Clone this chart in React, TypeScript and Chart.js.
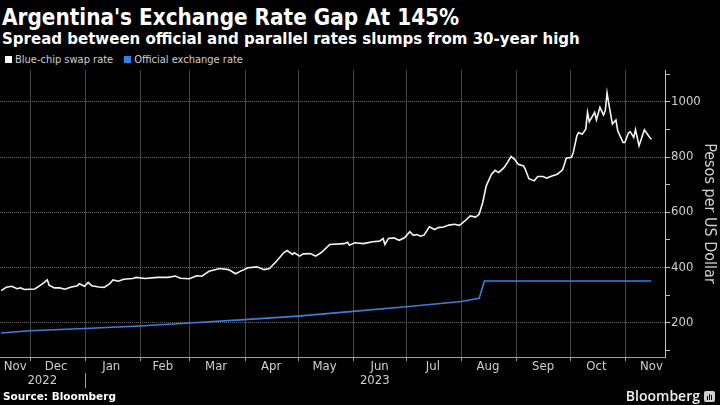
import React, { useEffect, useRef } from 'react';
import { Chart, registerables } from 'chart.js';

Chart.register(...registerables);

// ---------- data ----------
const SWAP_DATES = [
  '2022-11-15','2022-11-18','2022-11-21','2022-11-24','2022-11-26','2022-11-28','2022-12-04','2022-12-07','2022-12-09','2022-12-11',
  '2022-12-12','2022-12-15','2022-12-18','2022-12-21','2022-12-24','2022-12-28','2022-12-29','2023-01-01','2023-01-03','2023-01-05',
  '2023-01-09','2023-01-12','2023-01-15','2023-01-17','2023-01-20','2023-01-23','2023-01-28','2023-01-30','2023-02-04','2023-02-11',
  '2023-02-17','2023-02-21','2023-02-24','2023-03-01','2023-03-05','2023-03-08','2023-03-12','2023-03-18','2023-03-23','2023-03-27',
  '2023-03-29','2023-04-03','2023-04-08','2023-04-12','2023-04-15','2023-04-19','2023-04-23','2023-04-25','2023-04-28','2023-04-29',
  '2023-05-02','2023-05-04','2023-05-08','2023-05-11','2023-05-14','2023-05-19','2023-05-27','2023-05-29','2023-05-30','2023-06-02',
  '2023-06-07','2023-06-12','2023-06-16','2023-06-18','2023-06-19','2023-06-21','2023-06-24','2023-06-27','2023-06-30','2023-07-03',
  '2023-07-05','2023-07-07','2023-07-09','2023-07-11','2023-07-14','2023-07-17','2023-07-19','2023-07-22','2023-07-25','2023-07-28',
  '2023-07-31','2023-08-03','2023-08-06','2023-08-09','2023-08-11','2023-08-13','2023-08-15','2023-08-18','2023-08-20','2023-08-22',
  '2023-08-25','2023-08-27','2023-08-29','2023-08-31','2023-09-02','2023-09-05','2023-09-06','2023-09-08','2023-09-11','2023-09-13',
  '2023-09-16','2023-09-18','2023-09-21','2023-09-24','2023-09-27','2023-09-28','2023-09-29','2023-10-02','2023-10-03','2023-10-05',
  '2023-10-06','2023-10-08','2023-10-10','2023-10-11','2023-10-12','2023-10-15','2023-10-16','2023-10-18','2023-10-20','2023-10-21',
  '2023-10-22','2023-10-23','2023-10-25','2023-10-27','2023-10-28','2023-10-31','2023-11-01','2023-11-03','2023-11-04','2023-11-06',
  '2023-11-07','2023-11-09','2023-11-12','2023-11-15','2023-11-16',
];
const SWAP_VALUES = [
  315, 327, 331, 322, 325, 319, 321, 334, 343, 354,
  335, 325, 325, 320, 327, 333, 340, 331, 345, 333,
  328, 327, 339, 354, 349, 356, 359, 363, 359, 363,
  363, 368, 360, 358, 369, 367, 385, 395, 391, 376,
  383, 398, 401, 391, 395, 421, 452, 460, 446, 452,
  440, 448, 449, 440, 452, 482, 485, 490, 479, 488,
  485, 492, 494, 503, 482, 504, 506, 497, 506, 528,
  515, 518, 512, 516, 546, 536, 543, 545, 552, 555,
  551, 567, 585, 581, 591, 633, 694, 736, 750, 742,
  760, 779, 800, 790, 772, 766, 754, 720, 712, 728,
  728, 722, 730, 736, 752, 772, 794, 797, 815, 875,
  887, 881, 899, 960, 926, 960, 933, 978, 950, 966,
  1030, 990, 918, 932, 893, 851, 851, 885, 890, 869,
  897, 839, 897, 869, 863,
];

const OFFICIAL_DATES = [
  '2022-11-15','2022-12-01','2023-01-01','2023-02-01','2023-03-01','2023-04-01','2023-05-01',
  '2023-06-01','2023-07-01','2023-08-01','2023-08-11','2023-08-14','2023-11-16',
];
const OFFICIAL_VALUES = [162, 170, 178, 187, 198, 210, 223, 240, 257, 276, 287, 350, 350];

const MONTH_STARTS = [
  '2022-12-01','2023-01-01','2023-02-01','2023-03-01','2023-04-01','2023-05-01',
  '2023-06-01','2023-07-01','2023-08-01','2023-09-01','2023-10-01','2023-11-01',
];
const MONTH_LABELS = ['Nov','Dec','Jan','Feb','Mar','Apr','May','Jun','Jul','Aug','Sep','Oct','Nov'];
const MONTH_LABEL_DATES = [
  '2022-11-23','2022-12-16','2023-01-16','2023-02-14','2023-03-16','2023-04-16','2023-05-16',
  '2023-06-16','2023-07-16','2023-08-16','2023-09-16','2023-10-16','2023-11-16',
];
const YEAR_LABELS = ['2022', '2023'];
const YEAR_STARTS = ['2022-01-01', '2023-01-01'];

const Y_TICKS = [100, 200, 300, 400, 500, 600, 700, 800, 900, 1000, 1100];
const Y_LABELLED = [200, 400, 600, 800, 1000];
const Y_MIN = 75;
const Y_MAX = 1113;
const X_FIRST = '2022-11-15';
const X_LAST = '2023-11-24';

// ---------- helpers ----------
const BASE = Date.UTC(2022, 10, 1);
const dayOf = (s: string) => {
  const [y, m, d] = s.split('-').map(Number);
  return (Date.UTC(y, m - 1, d) - BASE) / 86400000;
};

const FONT = '"DejaVu Sans Condensed", "DejaVu Sans", sans-serif';
const GRID = '#6a6a6a';
const VGRID = '#444444';
const AXIS = '#a0a0a0';
const LABEL = '#cfcfcf';
const WHITE = '#f4f4f4';
const BLUE = '#3b7fd9';

const labelMap = new Map<number, string>();
MONTH_LABEL_DATES.forEach((d, i) => labelMap.set(dayOf(d), MONTH_LABELS[i]));
const allXTicks = [...MONTH_STARTS, ...MONTH_LABEL_DATES].map(dayOf).sort((a, b) => a - b);

// draws grid, tick marks, axis lines, the year row and its separator
const framePlugin = {
  id: 'frame',
  beforeDatasetsDraw(chart: any) {
    const sx = chart.scales.x;
    const sy = chart.scales.y;
    const area = chart.chartArea;
    const ctx = chart.ctx;
    ctx.save();
    ctx.fillStyle = VGRID;
    MONTH_STARTS.forEach((ms) => {
      const x = Math.round(sx.getPixelForValue(dayOf(ms)));
      ctx.fillRect(x, Math.round(area.top), 1, Math.round(area.bottom - area.top));
    });
    ctx.fillStyle = GRID;
    Y_LABELLED.forEach((v) => {
      const y = Math.round(sy.getPixelForValue(v));
      for (let x = Math.ceil(area.left); x < area.right; x += 2) ctx.fillRect(x, y, 1, 1);
    });
    ctx.restore();
  },
  afterDraw(chart: any) {
    const sx = chart.scales.x;
    const sy = chart.scales.y;
    const area = chart.chartArea;
    const ctx = chart.ctx;
    const b = Math.round(area.bottom);
    const r = Math.round(area.right);
    const l = Math.round(area.left);
    const t = Math.round(area.top);
    ctx.save();
    ctx.fillStyle = AXIS;
    ctx.fillRect(l, b, r - l, 1);
    MONTH_STARTS.forEach((ms) => {
      const x = Math.round(sx.getPixelForValue(dayOf(ms)));
      ctx.fillRect(x, b, 1, 4);
    });
    ctx.fillStyle = '#c0c0c0';
    ctx.fillRect(r, t, 1, b - t + 1);
    Y_TICKS.forEach((v) => {
      const y = Math.round(sy.getPixelForValue(v));
      ctx.fillRect(r, y, 5, 1);
    });
    ctx.font = `13px ${FONT}`;
    ctx.fillStyle = LABEL;
    ctx.textAlign = 'center';
    ctx.textBaseline = 'middle';
    const yText = sx.top + 24;
    YEAR_STARTS.forEach((ys, i) => {
      const a = Math.max(sx.min, dayOf(ys));
      const e = i + 1 < YEAR_STARTS.length ? Math.min(sx.max, dayOf(YEAR_STARTS[i + 1])) : sx.max;
      if (e <= a) return;
      ctx.fillText(YEAR_LABELS[i], sx.getPixelForValue((a + e) / 2), yText);
    });
    ctx.fillStyle = AXIS;
    YEAR_STARTS.forEach((ys) => {
      const d = dayOf(ys);
      if (d <= sx.min || d >= sx.max) return;
      const x = Math.round(sx.getPixelForValue(d));
      ctx.fillRect(x, sx.top + 16, 1, 15);
    });
    ctx.restore();
  },
};

function ExchangeChart() {
  const ref = useRef<HTMLCanvasElement | null>(null);
  useEffect(() => {
    if (!ref.current) return;
    const chart = new Chart(ref.current, {
      type: 'line',
      data: {
        datasets: [
          {
            label: 'Blue-chip swap rate',
            data: SWAP_DATES.map((d, i) => ({ x: dayOf(d), y: SWAP_VALUES[i] })),
            borderColor: WHITE,
            borderWidth: 1.6,
            pointRadius: 0,
            tension: 0,
          },
          {
            label: 'Official exchange rate',
            data: OFFICIAL_DATES.map((d, i) => ({ x: dayOf(d), y: OFFICIAL_VALUES[i] })),
            borderColor: BLUE,
            borderWidth: 1.6,
            pointRadius: 0,
            tension: 0,
          },
        ],
      },
      options: {
        animation: false,
        responsive: false,
        maintainAspectRatio: false,
        layout: { padding: 0 },
        plugins: { legend: { display: false }, tooltip: { enabled: false }, title: { display: false } },
        scales: {
          x: {
            type: 'linear',
            position: 'bottom',
            min: dayOf(X_FIRST) - 0.6,
            max: dayOf(X_LAST) - 0.4,
            afterBuildTicks: (s: any) => {
              s.ticks = allXTicks.map((v) => ({ value: v }));
            },
            afterFit: (s: any) => {
              s.height = 36;
              s.paddingLeft = 0;
              s.paddingRight = 0;
            },
            ticks: {
              autoSkip: false,
              maxRotation: 0,
              minRotation: 0,
              padding: 2,
              color: LABEL,
              font: { family: FONT, size: 13, lineHeight: 1.2 },
              callback: (v: any) => labelMap.get(v) ?? '',
            },
            grid: { display: false, drawTicks: false },
            border: { display: false },
          },
          y: {
            type: 'linear',
            position: 'right',
            min: Y_MIN,
            max: Y_MAX,
            afterBuildTicks: (s: any) => {
              s.ticks = Y_TICKS.map((v) => ({ value: v }));
            },
            afterFit: (s: any) => {
              s.width = 55;
              s.paddingTop = 0;
              s.paddingBottom = 0;
            },
            ticks: {
              padding: 6,
              color: LABEL,
              font: { family: FONT, size: 13 },
              callback: (v: any) => (Y_LABELLED.includes(v) ? String(v) : ''),
            },
            grid: { display: false, drawTicks: false },
            border: { display: false },
            title: {
              display: true,
              text: 'Pesos per US Dollar',
              color: LABEL,
              font: { family: FONT, size: 16 },
              padding: { top: 1, bottom: 0 },
            },
          },
        },
      },
      plugins: [framePlugin],
    } as any);
    return () => chart.destroy();
  }, []);
  return <canvas ref={ref} width={720} height={323} style={{ position: 'absolute', left: 0, top: 70, width: 720, height: 323 }} />;
}

export default function App() {
  const sq = (c: string): React.CSSProperties => ({
    display: 'inline-block', width: 7, height: 7, background: c, marginRight: 3, verticalAlign: 'middle', position: 'relative', top: -1,
  });
  return (
    <div style={{ position: 'fixed', left: 0, top: 0, width: 720, height: 405, background: '#000', overflow: 'hidden', fontFamily: FONT, color: '#fff' }}>
      <div style={{ position: 'absolute', left: 2, top: 4, fontSize: 22.3, lineHeight: '26px', fontWeight: 700, whiteSpace: 'nowrap' }}>
        Argentina's Exchange Rate Gap At 145%
      </div>
      <div style={{ position: 'absolute', left: 2, top: 28, fontSize: 16.7, lineHeight: '20px', fontWeight: 700, whiteSpace: 'nowrap' }}>
        Spread between official and parallel rates slumps from 30-year high
      </div>
      <div style={{ position: 'absolute', left: 5, top: 53, fontSize: 11, lineHeight: '14px', color: '#d0d0d0', whiteSpace: 'nowrap' }}>
        <span style={sq('#ffffff')} />
        <span>Blue-chip swap rate</span>
        <span style={{ display: 'inline-block', width: 11 }} />
        <span style={sq('#2f80ed')} />
        <span>Official exchange rate</span>
      </div>
      <ExchangeChart />
      <div style={{ position: 'absolute', left: 3, top: 389, fontSize: 10.5, lineHeight: '14px', fontWeight: 700, fontFamily: '"DejaVu Sans", sans-serif', whiteSpace: 'nowrap' }}>
        Source: Bloomberg
      </div>
      <div style={{ position: 'absolute', right: 20, top: 387, fontSize: 14, lineHeight: '18px', fontWeight: 600, fontFamily: '"Open Sans", sans-serif', color: '#f0f0f0', whiteSpace: 'nowrap' }}>
        Bloomberg
      </div>
      <div style={{ position: 'absolute', left: 704, top: 391, width: 11, height: 11, borderRadius: 2, background: '#cfcfcf' }}>
        <div style={{ position: 'absolute', left: 3, top: 5, width: 1, height: 4, background: '#000' }} />
        <div style={{ position: 'absolute', left: 5, top: 3, width: 1, height: 6, background: '#000' }} />
        <div style={{ position: 'absolute', left: 7, top: 4, width: 1, height: 5, background: '#000' }} />
      </div>
    </div>
  );
}
